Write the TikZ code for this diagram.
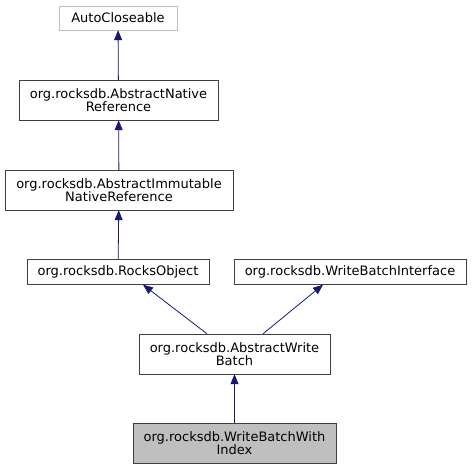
\documentclass[tikz,border=0pt]{standalone}
\usepackage{fontspec}
\setmainfont{DejaVu Sans}
\usetikzlibrary{arrows.meta,calc}
\definecolor{dxnavy}{HTML}{191970}
\definecolor{dxedge}{HTML}{404040}
\definecolor{dxlight}{HTML}{BFBFBF}
\definecolor{dxsel}{HTML}{BFBFBF}
\tikzset{
  cls/.style={draw=dxedge, fill=white, align=center, inner sep=1pt, font=\fontsize{13}{13}\selectfont},
  ext/.style={cls, draw=dxlight},
  cur/.style={cls, fill=dxsel},
  inh/.style={-{Triangle[length=10pt,width=8pt]}, color=dxnavy, line width=0.8pt},
}

\begin{document}
\begin{tikzpicture}[x=1pt,y=-1pt]
    \useasboundingbox (0,0) rectangle (472,469);
    \node[ext, minimum width=118, minimum height=24] (ac) at (118,18) {AutoCloseable};
    \node[cls, minimum width=199, minimum height=40] (anr) at (118.5,100) {org.rocksdb.AbstractNative\\Reference};
    \node[cls, minimum width=228, minimum height=40] (ainr) at (119,190) {org.rocksdb.AbstractImmutable\\NativeReference};
    \node[cls, minimum width=182, minimum height=25] (ro) at (118,272) {org.rocksdb.RocksObject};
    \node[cls, minimum width=232, minimum height=25] (wbi) at (350,272) {org.rocksdb.WriteBatchInterface};
    \node[cls, minimum width=191, minimum height=40] (awb) at (234.5,354) {org.rocksdb.AbstractWrite\\Batch};
    \node[cur, minimum width=203, minimum height=40] (wbwi) at (234.5,443) {org.rocksdb.WriteBatchWith\\Index};
    \draw[inh] (anr) -- (ac);
    \draw[inh] (ainr) -- (anr);
    \draw[inh] (ro) -- (ainr);
    \draw[inh] ($(awb.north)+(-27.5,0)$) -- ($(ro.south)+(25,0)$);
    \draw[inh] ($(awb.north)+(28.5,0)$) -- ($(wbi.south)+(-27,0)$);
    \draw[inh] (wbwi) -- (awb);
  \end{tikzpicture}
\end{document}
